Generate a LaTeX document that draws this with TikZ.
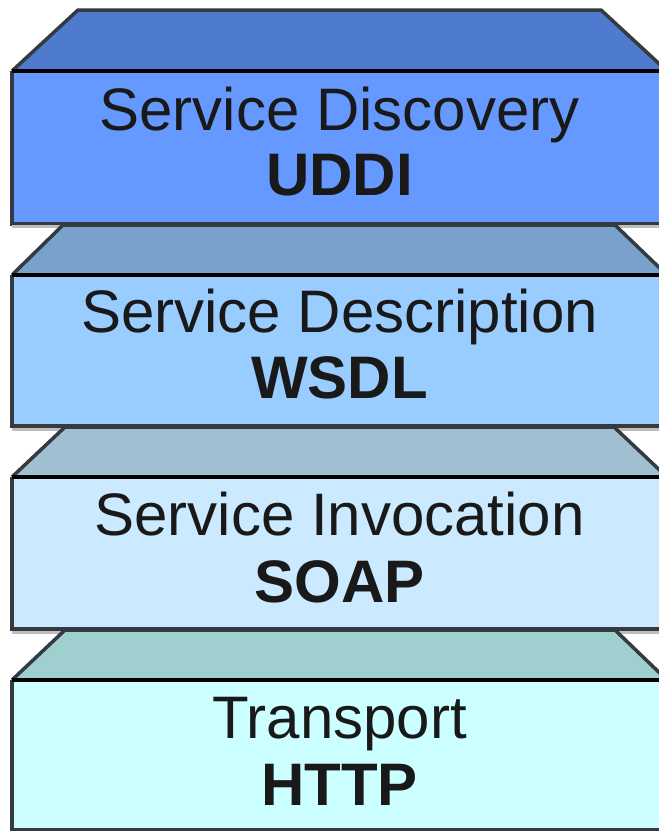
\documentclass[tikz,border=0pt]{standalone}
\usepackage{fontspec}
\setmainfont{Liberation Sans}
\definecolor{topA}{HTML}{4F7BCE}
\definecolor{recA}{HTML}{6699FF}
\definecolor{topB}{HTML}{78A2CC}
\definecolor{recB}{HTML}{99CCFF}
\definecolor{topC}{HTML}{A0BFD0}
\definecolor{recC}{HTML}{CCEAFF}
\definecolor{topD}{HTML}{A0CFCF}
\definecolor{recD}{HTML}{CCFFFF}
\definecolor{edge}{HTML}{353A40}
\definecolor{shade}{HTML}{BDBDBD}
\tikzset{
  bevel/.style={draw=edge, line width=3.5pt, line join=miter},
  front/.style={draw=edge, line width=3.5pt},
  seam/.style={draw=black, line width=4pt},
  shadowline/.style={draw=shade, line width=3pt},
  lbl/.style={anchor=base, inner sep=0pt, font=\fontsize{60}{72}\selectfont, text=black!90},
  lblb/.style={lbl, font=\fontsize{60}{72}\selectfont\bfseries}
}
\begin{document}
\begin{tikzpicture}[x=1pt,y=-1pt]
\useasboundingbox (0,0) rectangle (659,831);
\clip (0,0) rectangle (659,831);
\fill[white] (0,0) rectangle (659,831);
% layer 1
\fill[topA] (78,10) -- (601,10) -- (667,71) -- (12,71) -- cycle;
\draw[bevel] (12,71) -- (78,10) -- (601,10) -- (667,71);
\fill[recA] (12,71) rectangle (667,224);
\draw[front] (12,71) -- (12,224) -- (667,224);
\draw[seam] (12,71) -- (667,71);
% layer 2
\draw[shadowline] (12,226) -- (63,226);
\draw[shadowline] (615,226) -- (667,226);
\fill[topB] (63,225) -- (615,225) -- (667,275) -- (12,275) -- cycle;
\draw[bevel] (12,275) -- (63,225) -- (615,225) -- (667,275);
\fill[recB] (12,275) rectangle (667,426);
\draw[front] (12,275) -- (12,426) -- (667,426);
\draw[seam] (12,275) -- (667,275);
% layer 3
\draw[shadowline] (12,429) -- (65,429);
\draw[shadowline] (614,429) -- (667,429);
\fill[topC] (65,427) -- (614,427) -- (667,477) -- (12,477) -- cycle;
\draw[bevel] (12,477) -- (65,427) -- (614,427) -- (667,477);
\fill[recC] (12,477) rectangle (667,629);
\draw[front] (12,477) -- (12,629) -- (667,629);
\draw[seam] (12,477) -- (667,477);
% layer 4
\draw[shadowline] (12,632) -- (65,632);
\draw[shadowline] (615,632) -- (667,632);
\fill[topD] (65,630) -- (615,630) -- (667,680) -- (12,680) -- cycle;
\draw[bevel] (12,680) -- (65,630) -- (615,630) -- (667,680);
\fill[recD] (12,680) rectangle (667,830);
\draw[front] (12,680) -- (12,830) -- (667,830);
\draw[seam] (12,680) -- (667,680);
% labels
\node[lbl]  (n1a) at (339.5,130) {Service Discovery};
\node[lblb] (n1b) at (339.5,195) {UDDI};
\node[lbl]  (n2a) at (339.5,332) {Service Description};
\node[lblb] (n2b) at (339.5,398) {WSDL};
\node[lbl]  (n3a) at (339.5,535) {Service Invocation};
\node[lblb] (n3b) at (339.5,602) {SOAP};
\node[lbl]  (n4a) at (339.5,738) {Transport};
\node[lblb] (n4b) at (339.5,805) {HTTP};
\end{tikzpicture}
\end{document}
